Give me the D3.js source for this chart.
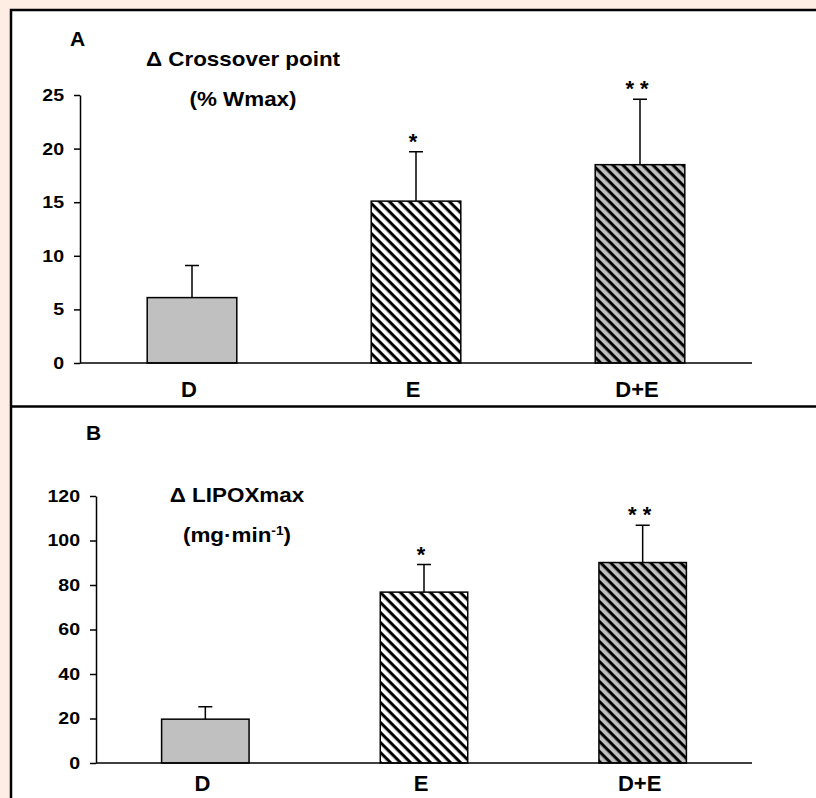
<!DOCTYPE html>
<html lang="en">
<head>
    <meta charset="UTF-8">
    <title>Crossover point and LIPOXmax</title>
    <script src="https://d3js.org/d3.v7.min.js"></script>
    <style>
        body { margin: 0; background: #fdede3; }
        text { font-family: "Liberation Sans", Arial, sans-serif; font-weight: bold; fill: #000; }
    </style>
</head>
<body>
    <div id="chart-container"></div>

    <script>
        // values (mean and error bar length)
        const categories = ["D", "E", "D+E"];
        const crossoverMean = [6.1, 15.1, 18.5];
        const crossoverErr = [3.0, 4.6, 6.1];
        const lipoxMean = [19.7, 76.8, 90.1];
        const lipoxErr = [5.6, 12.4, 16.7];
        const significance = ["", "*", "* *"];
        const crossoverTicks = [0, 5, 10, 15, 20, 25];
        const lipoxTicks = [0, 20, 40, 60, 80, 100, 120];

        const width = 816, height = 798;
        const stretch = 1.15;   // the text in the figure is a bit wide

        const svg = d3.select("#chart-container")
            .append("svg")
            .attr("width", width)
            .attr("height", height);

        const defs = svg.append("defs");
        function hatch(id, bg) {
            const p = defs.append("pattern")
                .attr("id", id)
                .attr("patternUnits", "userSpaceOnUse")
                .attr("width", 7.07)
                .attr("height", 7.07)
                .attr("patternTransform", "rotate(45)");
            p.append("rect").attr("width", 7.07).attr("height", 7.07).attr("fill", bg);
            p.append("rect").attr("width", 7.07).attr("height", 3).attr("fill", "#000");
        }
        hatch("hatchWhite", "#fff");
        hatch("hatchGray", "#c0c0c0");
        const barFill = ["#c0c0c0", "url(#hatchWhite)", "url(#hatchGray)"];

        // frame
        svg.append("rect")
            .attr("x", 11).attr("y", 10)
            .attr("width", width + 10).attr("height", height + 10)
            .attr("fill", "#fff")
            .attr("stroke", "#000")
            .attr("stroke-width", 2.5);
        svg.append("line")
            .attr("x1", 11).attr("x2", width)
            .attr("y1", 406.5).attr("y2", 406.5)
            .attr("stroke", "#000")
            .attr("stroke-width", 2.5);

        function wideText(x, y, size, anchor) {
            return svg.append("text")
                .attr("transform", `translate(${x},${y}) scale(${stretch},1)`)
                .attr("text-anchor", anchor)
                .style("font-size", size + "px");
        }

        function drawPanel(p) {
            const x = d3.scaleBand()
                .domain(categories)
                .range([p.left, 752])
                .paddingInner(0.6)
                .paddingOuter(0.3);

            const y = d3.scaleLinear()
                .domain([0, d3.max(p.ticks)])
                .range([p.bottom, p.top]);

            // panel letter
            svg.append("text")
                .attr("x", p.letterX).attr("y", p.letterY)
                .style("font-size", "21px")
                .text(p.letter);

            // title, two lines
            wideText(p.titleX, p.titleY, 19.5, "middle").text(p.title);
            const unit = wideText(p.titleX, p.titleY + 40, 19.5, "middle");
            unit.append("tspan").text(p.unit);
            if (p.unitSup) {
                unit.append("tspan").attr("dy", -7).style("font-size", "12px").text(p.unitSup);
                unit.append("tspan").attr("dy", 7).text(")");
            }

            // bars
            svg.selectAll(null)
                .data(p.mean)
                .join("rect")
                .attr("x", (d, i) => x(categories[i]))
                .attr("y", d => y(d))
                .attr("width", x.bandwidth())
                .attr("height", d => y(0) - y(d))
                .attr("fill", (d, i) => barFill[i])
                .attr("stroke", "#000")
                .attr("stroke-width", 1.5);

            // error bars (upper only)
            const cx = i => x(categories[i]) + x.bandwidth() / 2;
            svg.selectAll(null)
                .data(p.mean)
                .join("path")
                .attr("fill", "none")
                .attr("stroke", "#000")
                .attr("stroke-width", 1.5)
                .attr("d", (d, i) => {
                    const top = y(d + p.err[i]);
                    return `M${cx(i)},${y(d)}V${top}M${cx(i) - 7},${top}H${cx(i) + 7}`;
                });

            // significance stars
            svg.selectAll(null)
                .data(p.mean)
                .join("text")
                .attr("x", (d, i) => cx(i) - 3)
                .attr("y", (d, i) => y(d + p.err[i]) - 3)
                .attr("text-anchor", "middle")
                .style("font-size", "22px")
                .text((d, i) => significance[i]);

            // x axis line
            svg.append("line")
                .attr("x1", p.left).attr("x2", 752)
                .attr("y1", y(0)).attr("y2", y(0))
                .attr("stroke", "#000")
                .attr("stroke-width", 1.5);

            // y axis
            const yAxis = svg.append("g")
                .attr("transform", `translate(${p.left},0)`)
                .call(d3.axisLeft(y).tickValues(p.ticks).tickSize(6).tickSizeOuter(0).tickPadding(10));
            yAxis.selectAll("path, line").attr("stroke", "#000").attr("stroke-width", 1.5);
            yAxis.selectAll("text")
                .attr("x", -16 / stretch)
                .attr("transform", `scale(${stretch},1)`)
                .style("font-size", "17px")
                .style("font-family", "'Liberation Sans', Arial, sans-serif")
                .style("font-weight", "bold");

            // category labels
            svg.selectAll(null)
                .data(categories)
                .join("text")
                .attr("x", d => x(d) + x.bandwidth() / 2 - 3)
                .attr("y", p.catY)
                .attr("text-anchor", "middle")
                .style("font-size", "22px")
                .text(d => d);
        }

        drawPanel({
            letter: "A", letterX: 70, letterY: 46,
            title: "\u0394 Crossover point", unit: "(% Wmax)",
            titleX: 243, titleY: 66,
            mean: crossoverMean, err: crossoverErr, ticks: crossoverTicks,
            left: 80, top: 95, bottom: 363, catY: 397
        });

        drawPanel({
            letter: "B", letterX: 86, letterY: 440,
            title: "\u0394 LIPOXmax", unit: "(mg\u00b7min", unitSup: "-1",
            titleX: 237, titleY: 502,
            mean: lipoxMean, err: lipoxErr, ticks: lipoxTicks,
            left: 96, top: 496, bottom: 763, catY: 791
        });
    </script>
</body>
</html>
